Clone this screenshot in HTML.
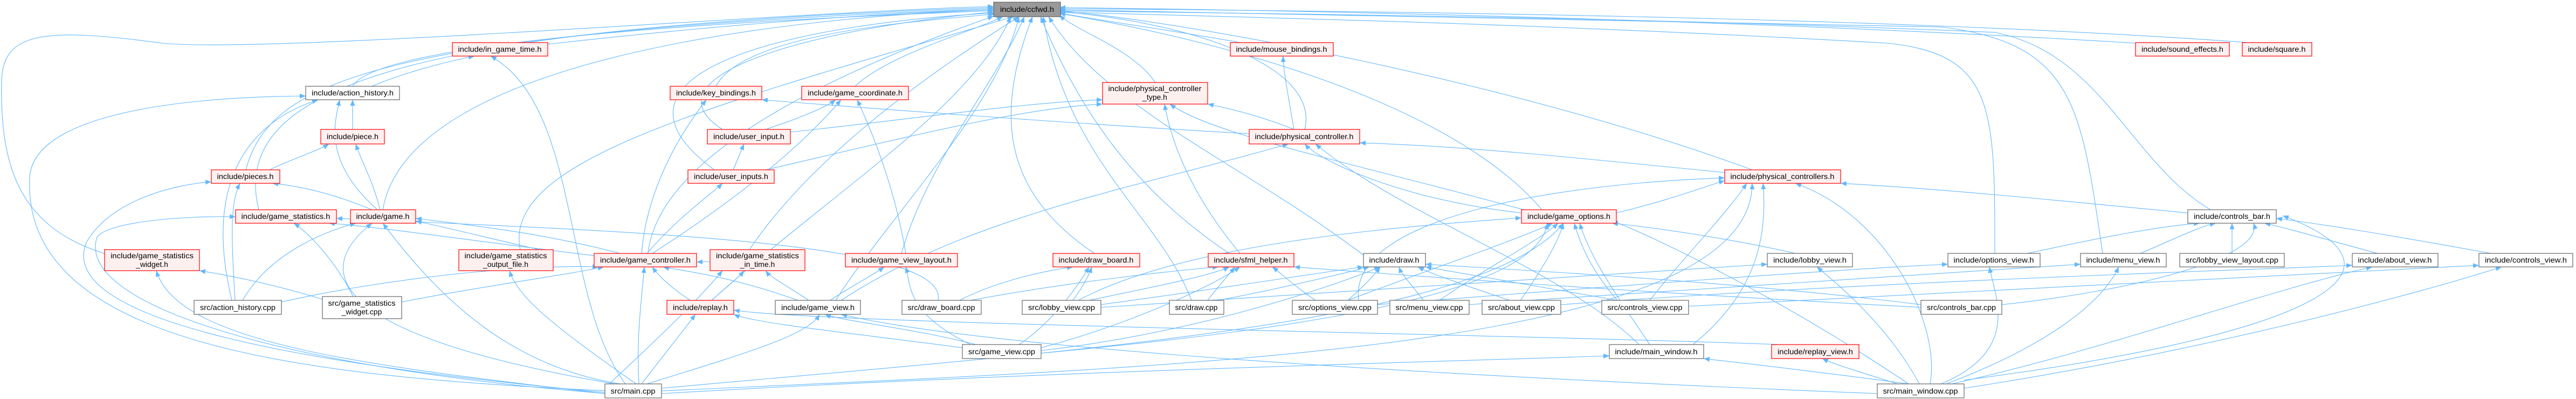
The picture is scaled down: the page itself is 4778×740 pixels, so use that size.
<!DOCTYPE html>
<html><head><meta charset="utf-8"><style>
html,body{margin:0;padding:0;background:#fff}
svg{display:block}
text{font-family:"Liberation Sans",sans-serif;font-size:14px;fill:#000}
.e{fill:none;stroke:#63b8ff;stroke-width:1.1}
.r{fill:#fff0f0;stroke:#ff0000;stroke-width:1.2}
.g{fill:#fff;stroke:#666;stroke-width:1.2}
</style></head><body>
<svg width="4778" height="740" viewBox="0 0 4778 740" xmlns="http://www.w3.org/2000/svg">
<defs><marker id="a" markerUnits="userSpaceOnUse" markerWidth="12" markerHeight="10" refX="11" refY="4.5" orient="auto"><path d="M0,0 L11,4.5 L0,9 z" fill="#63b8ff"/></marker></defs>
<g class="e" marker-end="url(#a)">
<path d="M1016 82 C1300 50 1600 25 1843 18"/>
<path d="M654 160 C700 80 1300 40 1843 20"/>
<path d="M1328 160 C1380 60 1700 40 1845 26"/>
<path d="M1586 160 C1650 100 1800 60 1860 31"/>
<path d="M2143 153 C2100 90 2000 60 1965 28"/>
<path d="M2300 79 C2200 60 2050 40 1965 24"/>
<path d="M1340 240 C1200 150 1450 60 1843 22"/>
<path d="M1325 315 C1100 150 1400 50 1843 24"/>
<path d="M2420 240 C2450 120 2200 40 1965 22"/>
<path d="M456 315 C500 150 700 60 1843 16"/>
<path d="M480 389 C420 150 800 50 1843 14"/>
<path d="M710 389 C760 100 1500 30 1843 18"/>
<path d="M194 470 C30 420 0 300 3 150 C5 60 80 50 300 80 C500 100 1500 20 1843 12"/>
<path d="M965 463 C930 300 1300 200 1880 31"/>
<path d="M1202 470 C1220 300 1500 150 1843 30"/>
<path d="M1390 463 C1500 300 1700 150 1890 31"/>
<path d="M1672 470 C1720 300 1850 150 1900 31"/>
<path d="M2030 470 C1850 350 1850 200 1915 31"/>
<path d="M2280 470 C2100 350 2000 200 1930 31"/>
<path d="M2529 473 C2300 300 2050 200 1945 31"/>
<path d="M3250 315 C2800 150 2200 40 1965 20"/>
<path d="M2860 389 C2700 200 2300 80 1965 25"/>
<path d="M3961 80 C3300 40 2500 20 1965 14"/>
<path d="M4170 79 C3500 30 2500 20 1965 16"/>
<path d="M4100 389 C3950 300 3900 100 3700 60 C3000 30 2300 25 1965 20"/>
<path d="M3700 470 C3700 200 3700 100 3500 80 C2800 40 2200 30 1965 22"/>
<path d="M3900 470 C3860 200 3850 80 3600 50 C2800 30 2200 25 1965 18"/>
<path d="M1550 557 C1650 400 1850 200 1890 31"/>
<path d="M1320 557 C1550 350 1800 200 1875 31"/>
<path d="M2210 557 C2150 400 1980 300 1935 31"/>
<path d="M690 160 C760 130 850 110 880 104"/>
<path d="M654 240 L654 185"/>
<path d="M500 315 C540 295 590 280 610 267"/>
<path d="M700 389 C600 300 620 230 630 185"/>
<path d="M705 389 C690 330 670 300 660 267"/>
<path d="M690 389 C620 360 560 345 505 340"/>
<path d="M430 557 C380 350 450 230 590 185"/>
<path d="M436 557 C430 450 425 380 445 340"/>
<path d="M450 557 C500 470 600 430 660 414"/>
<path d="M522 560 C700 520 950 490 1110 495"/>
<path d="M598 555 C500 525 420 510 370 502"/>
<path d="M655 550 C620 480 570 430 545 414"/>
<path d="M745 560 C900 530 1050 510 1120 495"/>
<path d="M1130 725 C600 700 40 650 55 330 C60 220 300 180 567 178"/>
<path d="M1125 728 C600 680 100 600 160 450 C200 380 300 345 392 337"/>
<path d="M1125 730 C500 680 140 560 180 440 C200 410 350 400 437 402"/>
<path d="M1122 730 C700 680 330 640 290 502"/>
<path d="M1150 712 C950 680 820 560 710 414"/>
<path d="M1140 712 C600 620 580 500 690 414"/>
<path d="M1160 712 C1040 550 1080 200 910 104"/>
<path d="M1180 712 C1020 600 960 550 945 502"/>
<path d="M1185 712 C1180 620 1190 560 1195 495"/>
<path d="M1190 712 C1230 660 1270 610 1290 583"/>
<path d="M1130 712 C1250 600 1300 550 1340 502"/>
<path d="M1200 712 C1400 650 1500 620 1520 583"/>
<path d="M1227 730 C1900 690 2700 670 2985 660"/>
<path d="M1227 720 C2000 650 2750 600 2900 414"/>
<path d="M1227 725 C2200 680 3250 650 3250 340"/>
<path d="M1150 470 C1000 430 850 415 771 405"/>
<path d="M1110 475 C900 450 700 420 610 414"/>
<path d="M1200 470 C1260 400 1320 360 1340 340"/>
<path d="M1210 470 C1350 380 1480 280 1560 185"/>
<path d="M1190 470 C1200 350 1260 250 1310 185"/>
<path d="M1000 463 C900 440 820 420 771 410"/>
<path d="M1317 485 L1292 486"/>
<path d="M1480 557 C1350 510 1250 500 1230 495"/>
<path d="M1540 557 C1580 530 1620 510 1640 495"/>
<path d="M1500 557 C1460 530 1430 515 1420 502"/>
<path d="M1560 557 C1800 400 2100 350 2390 267"/>
<path d="M1280 557 C1240 530 1220 510 1210 495"/>
<path d="M1320 557 C1350 530 1370 515 1380 502"/>
<path d="M1680 470 C1660 350 1620 250 1590 185"/>
<path d="M1420 240 C1480 220 1530 200 1550 185"/>
<path d="M1466 245 C1700 220 1900 190 2045 185"/>
<path d="M1360 315 L1380 267"/>
<path d="M1420 315 C1700 250 1900 200 2045 193"/>
<path d="M2400 240 C2350 220 2300 205 2240 193"/>
<path d="M2400 240 C2390 180 2380 130 2380 104"/>
<path d="M2317 248 C2000 230 1600 200 1413 185"/>
<path d="M3199 320 C2900 290 2700 270 2522 265"/>
<path d="M2998 395 C3100 370 3150 350 3199 335"/>
<path d="M2822 395 C2600 370 2450 300 2420 267"/>
<path d="M4058 395 C3800 370 3600 350 3414 340"/>
<path d="M3760 470 C3900 440 4000 420 4080 414"/>
<path d="M3970 470 C4040 440 4080 420 4110 414"/>
<path d="M4140 470 L4140 414"/>
<path d="M4410 470 C4300 440 4230 420 4200 414"/>
<path d="M4620 470 C4400 430 4300 415 4222 405"/>
<path d="M3330 470 C3200 440 3050 420 2990 414"/>
<path d="M2300 470 C2200 350 2170 250 2160 193"/>
<path d="M2830 390 C2500 300 2250 250 2170 193"/>
<path d="M1780 557 C1850 520 1950 500 1990 495"/>
<path d="M1800 557 C2000 520 2200 500 2260 495"/>
<path d="M1740 557 C1760 450 1200 430 624 405"/>
<path d="M1990 557 C2010 530 2020 510 2025 495"/>
<path d="M2020 557 C2150 530 2250 510 2280 495"/>
<path d="M2042 565 C2300 530 2450 505 2529 495"/>
<path d="M2042 570 C2600 530 3100 500 3278 490"/>
<path d="M2000 557 C2200 450 2600 420 2822 404"/>
<path d="M2240 557 C2260 530 2280 510 2290 495"/>
<path d="M2260 557 C2400 530 2500 505 2540 495"/>
<path d="M2500 557 C2530 530 2550 510 2560 495"/>
<path d="M2440 557 C2400 530 2380 510 2360 495"/>
<path d="M2500 557 C2650 500 2800 450 2880 414"/>
<path d="M2555 565 C3000 530 3400 500 3613 490"/>
<path d="M2520 557 C2500 400 2900 340 3199 330"/>
<path d="M2640 557 C2620 530 2600 510 2595 495"/>
<path d="M2670 557 C2750 500 2850 450 2890 414"/>
<path d="M2725 565 C3200 530 3700 500 3859 490"/>
<path d="M2800 557 C2720 530 2660 510 2630 495"/>
<path d="M2820 557 C2860 500 2890 450 2900 414"/>
<path d="M2895 565 C3500 520 4200 500 4363 492"/>
<path d="M3000 557 C2850 530 2700 505 2644 495"/>
<path d="M3060 557 C3120 480 3200 400 3240 340"/>
<path d="M3132 568 C3900 530 4400 505 4598 492"/>
<path d="M3000 557 C2950 500 2930 450 2920 414"/>
<path d="M3713 565 C3950 540 4200 480 4180 414"/>
<path d="M3563 565 C3200 520 2800 500 2644 490"/>
<path d="M3563 570 C3000 540 2600 510 2400 495"/>
<path d="M1810 639 C1700 610 1560 595 1530 583"/>
<path d="M1890 639 C1950 600 2000 530 2020 495"/>
<path d="M1800 639 C1680 580 1690 530 1680 495"/>
<path d="M1785 645 C1600 620 1400 600 1361 583"/>
<path d="M1931 645 C2100 600 2250 530 2300 495"/>
<path d="M1931 650 C2200 620 2450 540 2560 495"/>
<path d="M1931 655 C2300 620 2850 560 2870 414"/>
<path d="M3060 639 C3000 550 2950 480 2930 414"/>
<path d="M3140 639 C3250 550 3280 450 3270 340"/>
<path d="M3040 639 C2900 500 2600 400 2440 267"/>
<path d="M3300 639 C2800 620 1500 600 1361 575"/>
<path d="M3540 712 C3300 680 3200 670 3160 665"/>
<path d="M3520 712 C3450 690 3400 675 3380 665"/>
<path d="M3560 712 C3500 600 3400 520 3370 495"/>
<path d="M3540 712 C3300 550 3050 430 2990 410"/>
<path d="M3580 712 C3600 600 3500 400 3330 340"/>
<path d="M3600 712 C3750 650 3700 550 3690 495"/>
<path d="M3610 712 C3800 640 3900 560 3930 495"/>
<path d="M3620 712 C3900 650 4200 540 4400 495"/>
<path d="M3643 720 C4100 650 4500 540 4640 495"/>
<path d="M3643 705 C4300 620 4500 500 4234 400"/>
<path d="M3482 730 C2500 690 1800 640 1560 583"/>
</g>
<g>
<rect x="1843" y="4" width="124" height="27" fill="#999" stroke="#666" stroke-width="1.2"/>
<text x="1905" y="22" text-anchor="middle" textLength="100" lengthAdjust="spacingAndGlyphs">include/ccfwd.h</text>

<rect class="r" x="839" y="79" width="177" height="25"/><text x="927" y="96" text-anchor="middle" textLength="155" lengthAdjust="spacingAndGlyphs">include/in_game_time.h</text>
<rect class="r" x="2282" y="79" width="191" height="25"/><text x="2377" y="96" text-anchor="middle" textLength="169" lengthAdjust="spacingAndGlyphs">include/mouse_bindings.h</text>
<rect class="r" x="3961" y="79" width="174" height="25"/><text x="4048" y="96" text-anchor="middle" textLength="152" lengthAdjust="spacingAndGlyphs">include/sound_effects.h</text>
<rect class="r" x="4159" y="79" width="129" height="25"/><text x="4223" y="96" text-anchor="middle" textLength="107" lengthAdjust="spacingAndGlyphs">include/square.h</text>

<rect class="g" x="567" y="160" width="174" height="25"/><text x="654" y="177" text-anchor="middle" textLength="152" lengthAdjust="spacingAndGlyphs">include/action_history.h</text>
<rect class="r" x="1243" y="160" width="170" height="25"/><text x="1328" y="177" text-anchor="middle" textLength="148" lengthAdjust="spacingAndGlyphs">include/key_bindings.h</text>
<rect class="r" x="1487" y="160" width="198" height="25"/><text x="1586" y="177" text-anchor="middle" textLength="176" lengthAdjust="spacingAndGlyphs">include/game_coordinate.h</text>
<rect class="r" x="2045" y="153" width="195" height="40"/><text x="2142" y="169" text-anchor="middle" textLength="173" lengthAdjust="spacingAndGlyphs">include/physical_controller</text><text x="2142" y="185" text-anchor="middle">_type.h</text>

<rect class="r" x="595" y="240" width="118" height="27"/><text x="654" y="258" text-anchor="middle" textLength="96" lengthAdjust="spacingAndGlyphs">include/piece.h</text>
<rect class="r" x="1312" y="240" width="154" height="27"/><text x="1389" y="258" text-anchor="middle" textLength="132" lengthAdjust="spacingAndGlyphs">include/user_input.h</text>
<rect class="r" x="2317" y="240" width="205" height="27"/><text x="2419" y="258" text-anchor="middle" textLength="183" lengthAdjust="spacingAndGlyphs">include/physical_controller.h</text>

<rect class="r" x="392" y="315" width="127" height="25"/><text x="455" y="332" text-anchor="middle" textLength="105" lengthAdjust="spacingAndGlyphs">include/pieces.h</text>
<rect class="r" x="1276" y="315" width="160" height="25"/><text x="1356" y="332" text-anchor="middle" textLength="138" lengthAdjust="spacingAndGlyphs">include/user_inputs.h</text>
<rect class="r" x="3199" y="315" width="215" height="25"/><text x="3306" y="332" text-anchor="middle" textLength="193" lengthAdjust="spacingAndGlyphs">include/physical_controllers.h</text>

<rect class="r" x="437" y="389" width="187" height="25"/><text x="530" y="406" text-anchor="middle" textLength="165" lengthAdjust="spacingAndGlyphs">include/game_statistics.h</text>
<rect class="r" x="650" y="389" width="121" height="25"/><text x="710" y="406" text-anchor="middle" textLength="99" lengthAdjust="spacingAndGlyphs">include/game.h</text>
<rect class="r" x="2822" y="389" width="176" height="25"/><text x="2910" y="406" text-anchor="middle" textLength="154" lengthAdjust="spacingAndGlyphs">include/game_options.h</text>
<rect class="g" x="4058" y="389" width="164" height="25"/><text x="4140" y="406" text-anchor="middle" textLength="142" lengthAdjust="spacingAndGlyphs">include/controls_bar.h</text>

<rect class="r" x="194" y="463" width="176" height="39"/><text x="282" y="479" text-anchor="middle" textLength="154" lengthAdjust="spacingAndGlyphs">include/game_statistics</text><text x="282" y="495" text-anchor="middle">_widget.h</text>
<rect class="r" x="851" y="463" width="175" height="39"/><text x="938" y="479" text-anchor="middle" textLength="153" lengthAdjust="spacingAndGlyphs">include/game_statistics</text><text x="938" y="495" text-anchor="middle">_output_file.h</text>
<rect class="r" x="1102" y="470" width="190" height="25"/><text x="1197" y="487" text-anchor="middle" textLength="168" lengthAdjust="spacingAndGlyphs">include/game_controller.h</text>
<rect class="r" x="1317" y="463" width="176" height="39"/><text x="1405" y="479" text-anchor="middle" textLength="154" lengthAdjust="spacingAndGlyphs">include/game_statistics</text><text x="1405" y="495" text-anchor="middle">_in_time.h</text>
<rect class="r" x="1568" y="470" width="208" height="25"/><text x="1672" y="487" text-anchor="middle" textLength="186" lengthAdjust="spacingAndGlyphs">include/game_view_layout.h</text>
<rect class="r" x="1953" y="470" width="161" height="25"/><text x="2033" y="487" text-anchor="middle" textLength="139" lengthAdjust="spacingAndGlyphs">include/draw_board.h</text>
<rect class="r" x="2241" y="470" width="159" height="25"/><text x="2320" y="487" text-anchor="middle" textLength="137" lengthAdjust="spacingAndGlyphs">include/sfml_helper.h</text>
<rect class="g" x="2529" y="470" width="115" height="25"/><text x="2586" y="487" text-anchor="middle" textLength="93" lengthAdjust="spacingAndGlyphs">include/draw.h</text>
<rect class="g" x="3278" y="470" width="158" height="25"/><text x="3357" y="487" text-anchor="middle" textLength="136" lengthAdjust="spacingAndGlyphs">include/lobby_view.h</text>
<rect class="g" x="3613" y="470" width="171" height="25"/><text x="3698" y="487" text-anchor="middle" textLength="149" lengthAdjust="spacingAndGlyphs">include/options_view.h</text>
<rect class="g" x="3859" y="470" width="159" height="25"/><text x="3938" y="487" text-anchor="middle" textLength="137" lengthAdjust="spacingAndGlyphs">include/menu_view.h</text>
<rect class="g" x="4043" y="470" width="194" height="25"/><text x="4140" y="487" text-anchor="middle" textLength="172" lengthAdjust="spacingAndGlyphs">src/lobby_view_layout.cpp</text>
<rect class="g" x="4363" y="470" width="159" height="25"/><text x="4442" y="487" text-anchor="middle" textLength="137" lengthAdjust="spacingAndGlyphs">include/about_view.h</text>
<rect class="g" x="4598" y="470" width="174" height="25"/><text x="4685" y="487" text-anchor="middle" textLength="152" lengthAdjust="spacingAndGlyphs">include/controls_view.h</text>

<rect class="g" x="360" y="557" width="162" height="26"/><text x="441" y="575" text-anchor="middle" textLength="140" lengthAdjust="spacingAndGlyphs">src/action_history.cpp</text>
<rect class="g" x="598" y="550" width="147" height="41"/><text x="671" y="567" text-anchor="middle" textLength="125" lengthAdjust="spacingAndGlyphs">src/game_statistics</text><text x="671" y="583" text-anchor="middle">_widget.cpp</text>
<rect class="r" x="1237" y="557" width="124" height="26"/><text x="1299" y="575" text-anchor="middle" textLength="102" lengthAdjust="spacingAndGlyphs">include/replay.h</text>
<rect class="g" x="1438" y="557" width="158" height="26"/><text x="1517" y="575" text-anchor="middle" textLength="136" lengthAdjust="spacingAndGlyphs">include/game_view.h</text>
<rect class="g" x="1673" y="557" width="147" height="26"/><text x="1746" y="575" text-anchor="middle" textLength="125" lengthAdjust="spacingAndGlyphs">src/draw_board.cpp</text>
<rect class="g" x="1896" y="557" width="146" height="26"/><text x="1969" y="575" text-anchor="middle" textLength="124" lengthAdjust="spacingAndGlyphs">src/lobby_view.cpp</text>
<rect class="g" x="2169" y="557" width="101" height="26"/><text x="2219" y="575" text-anchor="middle" textLength="79" lengthAdjust="spacingAndGlyphs">src/draw.cpp</text>
<rect class="g" x="2397" y="557" width="158" height="26"/><text x="2476" y="575" text-anchor="middle" textLength="136" lengthAdjust="spacingAndGlyphs">src/options_view.cpp</text>
<rect class="g" x="2578" y="557" width="147" height="26"/><text x="2651" y="575" text-anchor="middle" textLength="125" lengthAdjust="spacingAndGlyphs">src/menu_view.cpp</text>
<rect class="g" x="2749" y="557" width="146" height="26"/><text x="2822" y="575" text-anchor="middle" textLength="124" lengthAdjust="spacingAndGlyphs">src/about_view.cpp</text>
<rect class="g" x="2971" y="557" width="161" height="26"/><text x="3051" y="575" text-anchor="middle" textLength="139" lengthAdjust="spacingAndGlyphs">src/controls_view.cpp</text>
<rect class="g" x="3563" y="557" width="150" height="26"/><text x="3638" y="575" text-anchor="middle" textLength="128" lengthAdjust="spacingAndGlyphs">src/controls_bar.cpp</text>

<rect class="g" x="1785" y="639" width="146" height="26"/><text x="1858" y="657" text-anchor="middle" textLength="124" lengthAdjust="spacingAndGlyphs">src/game_view.cpp</text>
<rect class="g" x="2985" y="639" width="175" height="26"/><text x="3072" y="657" text-anchor="middle" textLength="153" lengthAdjust="spacingAndGlyphs">include/main_window.h</text>
<rect class="r" x="3286" y="639" width="162" height="26"/><text x="3367" y="657" text-anchor="middle" textLength="140" lengthAdjust="spacingAndGlyphs">include/replay_view.h</text>

<rect class="g" x="1122" y="712" width="105" height="26"/><text x="1174" y="730" text-anchor="middle" textLength="83" lengthAdjust="spacingAndGlyphs">src/main.cpp</text>
<rect class="g" x="3482" y="712" width="161" height="26"/><text x="3562" y="730" text-anchor="middle" textLength="139" lengthAdjust="spacingAndGlyphs">src/main_window.cpp</text>
</g>
</svg>
</body></html>
